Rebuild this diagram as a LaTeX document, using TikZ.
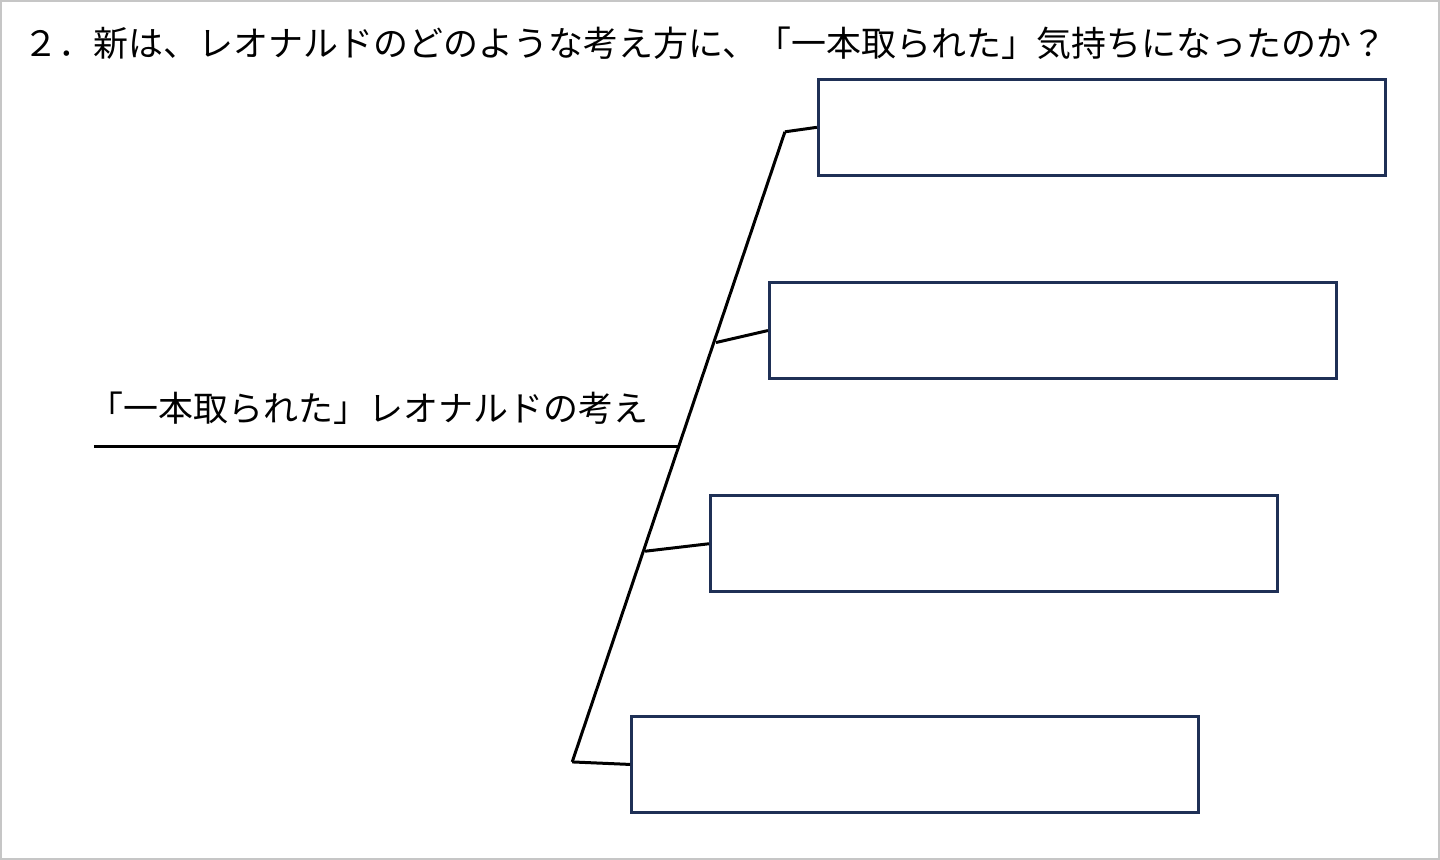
\documentclass[tikz,border=0pt]{standalone}
\usepackage{fontspec}
\newfontfamily\jp{Noto Sans CJK JP}
\usepackage{tikz}
\usetikzlibrary{positioning}
\definecolor{boxnavy}{HTML}{1F3056}
\tikzset{
  answer/.style={draw=boxnavy, line width=1.5pt, minimum width=284pt, minimum height=48pt, inner sep=0pt},
  bone/.style={line width=1.5pt, black},
  words/.style={font=\jp\fontsize{17.5pt}{20pt}\selectfont, inner sep=0pt}
}
\begin{document}
\begin{tikzpicture}[x=0.5pt, y=-0.5pt]
            % Frame
            \draw[gray!45, line width=1pt] (0,0) rectangle (1440,859);
            \useasboundingbox (0,0) rectangle (1440,859);

            % Texts
            \node[words] (title) at (705,42) {２．新は、レオナルドのどのような考え方に、「一本取られた」気持ちになったのか？};
            \node[words] (label) at (368,408) {「一本取られた」レオナルドの考え};

            % Boxes
            \node[answer] (a1) at (1102.5,126.5) {};
            \node[answer] (a2) at (1053.5,330) {};
            \node[answer] (a3) at (994.5,543.5) {};
            \node[answer] (a4) at (915.5,764.5) {};

            % Spine
            \coordinate (top) at (785,131);
            \coordinate (j2) at (716,342);
            \coordinate (mid) at (679,446);
            \coordinate (j3) at (645,551);
            \coordinate (bot) at (572,762);
            \coordinate (tail) at (93,446);

            % Lines
            \draw[bone] (top) -- (bot);
            \draw[bone] (tail) -- (mid);
            \draw[bone] (top) -- (a1.west);
            \draw[bone] (j2) -- (a2.west);
            \draw[bone] (j3) -- (a3.west);
            \draw[bone] (bot) -- (a4.west);
        \end{tikzpicture}
\end{document}
